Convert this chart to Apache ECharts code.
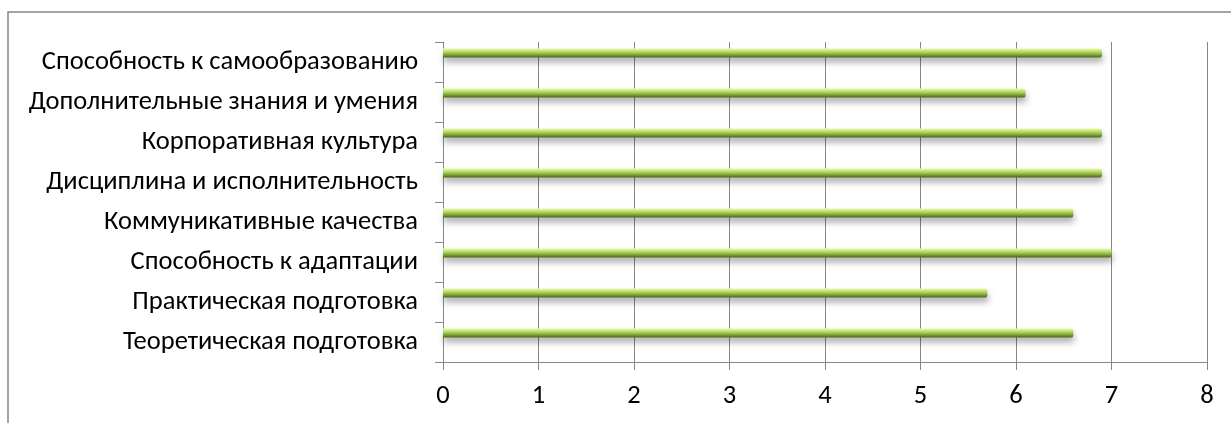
<!DOCTYPE html>
<html>
<head>
<meta charset="utf-8">
<script src="https://cdn.jsdelivr.net/npm/echarts@6/dist/echarts.min.js"></script>
<style>
html,body{margin:0;padding:0;background:#fff;}
#chart{width:1231px;height:423px;}
</style>
</head>
<body>
<div id="chart"></div>
<script>
// categories listed bottom-to-top (ECharts category y axis starts at the bottom)
var categories = [
  'Теоретическая подготовка',
  'Практическая подготовка',
  'Способность к адаптации',
  'Коммуникативные качества',
  'Дисциплина и исполнительность',
  'Корпоративная культура',
  'Дополнительные знания и умения',
  'Способность к самообразованию'
];
var values = [6.6, 5.7, 7.0, 6.6, 6.9, 6.9, 6.1, 6.9];
var xTicks = [0, 1, 2, 3, 4, 5, 6, 7, 8];

var chart = echarts.init(document.getElementById('chart'));
var gray = '#868686';
var labelFont = 'Carlito, "Open Sans", "Liberation Sans", sans-serif';

chart.setOption({
  animation: false,
  graphic: [{
    type: 'rect',
    shape: {x: 8, y: 12, width: 1400, height: 600},
    style: {fill: 'none', stroke: gray, lineWidth: 1.5},
    silent: true
  }],
  grid: {left: 443, right: 24, top: 42, bottom: 61, containLabel: false},
  xAxis: {
    type: 'value',
    min: xTicks[0],
    max: xTicks[xTicks.length - 1],
    interval: 1,
    axisLine: {show: true, lineStyle: {color: gray, width: 1}},
    axisTick: {show: true, length: 8, lineStyle: {color: gray}},
    splitLine: {show: true, lineStyle: {color: gray, width: 1}},
    axisLabel: {color: '#000', fontSize: 26.5, fontFamily: labelFont, margin: 21}
  },
  yAxis: {
    type: 'category',
    data: categories,
    axisLine: {show: true, lineStyle: {color: gray, width: 1}},
    axisTick: {show: true, length: 8, lineStyle: {color: gray}},
    axisLabel: {color: '#000', fontSize: 26.5, fontFamily: labelFont, margin: 25}
  },
  series: [
    {
      type: 'bar',
      data: values,
      barWidth: 9,
      barGap: '100%',
      itemStyle: {
        color: new echarts.graphic.LinearGradient(0, 0, 0, 1, [
          {offset: 0, color: '#eaf8b4'},
          {offset: 0.25, color: '#c8e772'},
          {offset: 0.55, color: '#9bbd4f'},
          {offset: 0.8, color: '#6c8e2e'},
          {offset: 1, color: '#4b6620'}
        ]),
        borderRadius: [0, 2, 2, 0],
        shadowColor: 'rgba(0,0,0,0.3)',
        shadowBlur: 6,
        shadowOffsetY: 5,
        shadowOffsetX: 1
      }
    },
    {
      type: 'bar',
      data: categories.map(function(){ return '-'; }),
      barWidth: 9,
      barGap: '100%',
      silent: true
    }
  ]
});
</script>
</body>
</html>
